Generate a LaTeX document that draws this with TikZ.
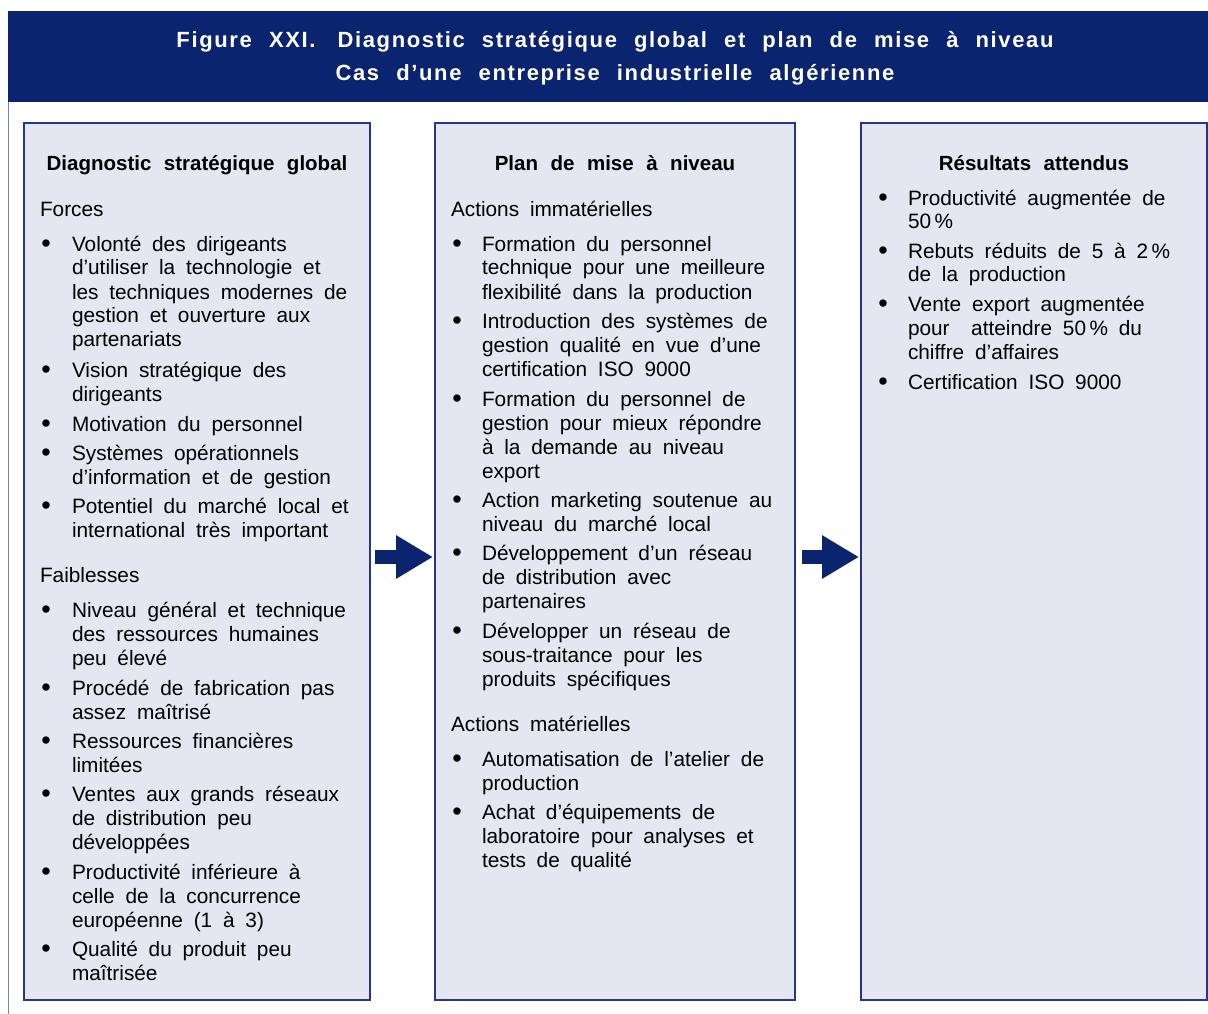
\documentclass[tikz,border=0pt]{standalone}
\usepackage{fontspec}
\setmainfont{Liberation Sans}[WordSpace=2.2]
\usetikzlibrary{arrows.meta,calc}
\definecolor{navy}{HTML}{0B2470}
\definecolor{panelfill}{HTML}{E4E7F1}
\definecolor{panelline}{HTML}{26368A}
\definecolor{frameline}{HTML}{7482B8}
\newcommand\bodyfnt{\fontsize{20.8pt}{24pt}\selectfont}
\newcommand\headfnt{\fontsize{20.5pt}{24pt}\selectfont\bfseries}
\newcommand\titlefnt{\fontsize{22pt}{32pt}\selectfont\bfseries\addfontfeature{LetterSpace=7.5}}
\newcommand\dotfnt{\fontsize{27pt}{27pt}\selectfont}
% wide interword spacing used in the panel texts
\newcommand\widesp{\spaceskip=10.8pt plus 1pt minus 1pt\xspaceskip=10.8pt\relax}
% bullet item: name, bullet x, text x, baseline y, text
\newcommand\bitem[5]{%
  \node[dot] (#1d) at (#2,#4) {•};
  \node[txt] (#1) at (#3,#4) {\widesp #5};}
\begin{document}
\begin{tikzpicture}[x=1pt,y=-1pt,
  panel/.style={draw=panelline, line width=1.4pt, fill=panelfill, rectangle,
    anchor=north west, inner sep=0pt, outer sep=0pt},
  txt/.style={anchor=base west, inner sep=0pt, outer sep=0pt,
    text width=330pt, font=\bodyfnt},
  dot/.style={anchor=base, inner sep=0pt, outer sep=0pt, font=\dotfnt, yshift=-1pt},
  head/.style={anchor=base, inner sep=0pt, outer sep=0pt, font=\headfnt},
  bigarrow/.style={draw=navy, line width=14pt,
    -{Triangle[length=37pt, width=41pt, fill=navy]}}]

\useasboundingbox (0,0) rectangle (1208,1014);
\fill[white] (0,0) rectangle (1208,1014);

% title banner
\node[fill=navy, rectangle, anchor=north west, inner sep=0pt, outer sep=0pt,
  minimum width=1200pt, minimum height=91pt] (banner) at (8,11) {};
\node[anchor=base, inner sep=0pt, text=white, font=\titlefnt] (title1) at (615,48)
  {Figure XXI.\hspace{22pt}Diagnostic stratégique global et plan de mise à niveau};
\node[anchor=base, inner sep=0pt, text=white, font=\titlefnt] (title2) at (615,81)
  {Cas d’une entreprise industrielle algérienne};

% left frame rule
\coordinate (frametop) at (8.6,102);
\coordinate (framebot) at (8.6,1014);
\draw[frameline, line width=1.2pt] (frametop) -- (framebot);

% the three panels
\node[panel, minimum width=346pt, minimum height=877pt] (box1) at (24,123) {};
\node[panel, minimum width=360pt, minimum height=877pt] (box2) at (435,123) {};
\node[panel, minimum width=346pt, minimum height=877pt] (box3) at (861,123) {};

% arrows between panels
\draw[bigarrow] ($(box1.east)+(5,-4.5)$) -- ($(box2.west)+(-2,-4.5)$);
\draw[bigarrow] ($(box2.east)+(7,-4.5)$) -- ($(box3.west)+(-2,-4.5)$);

% ---- panel 1 ----
\node[head] (h1) at (197,171) {Diagnostic stratégique global};
\node[txt] (forces) at (40,216) {Forces};
\bitem{f1}{46}{72}{251}{Volonté des dirigeants\\d’utiliser la technologie et\\les techniques modernes de\\gestion et ouverture aux\\partenariats}
\bitem{f2}{46}{72}{377}{Vision stratégique des\\dirigeants}
\bitem{f3}{46}{72}{431}{Motivation du personnel}
\bitem{f4}{46}{72}{460}{Systèmes opérationnels\\d’information et de gestion}
\bitem{f5}{46}{72}{513}{Potentiel du marché local et\\international très important}
\node[txt] (faibl) at (40,582) {Faiblesses};
\bitem{w1}{46}{72}{617}{Niveau général et technique\\des ressources humaines\\peu élevé}
\bitem{w2}{46}{72}{695}{Procédé de fabrication pas\\assez maîtrisé}
\bitem{w3}{46}{72}{748}{Ressources financières\\limitées}
\bitem{w4}{46}{72}{801}{Ventes aux grands réseaux\\de distribution peu\\développées}
\bitem{w5}{46}{72}{879}{Productivité inférieure à\\celle de la concurrence\\européenne (1 à 3)}
\bitem{w6}{46}{72}{956}{Qualité du produit peu\\maîtrisée}

% ---- panel 2 ----
\node[head] (h2) at (615,171) {Plan de mise à niveau};
\node[txt] (immat) at (451,216) {\widesp Actions immatérielles};
\bitem{a1}{457}{482}{251}{Formation du personnel\\technique pour une meilleure\\flexibilité dans la production}
\bitem{a2}{457}{482}{328}{Introduction des systèmes de\\gestion qualité en vue d’une\\certification ISO 9000}
\bitem{a3}{457}{482}{406}{Formation du personnel de\\gestion pour mieux répondre\\à la demande au niveau\\export}
\bitem{a4}{457}{482}{507}{Action marketing soutenue au\\niveau du marché local}
\bitem{a5}{457}{482}{560}{Développement d’un réseau\\de distribution avec\\partenaires}
\bitem{a6}{457}{482}{638}{Développer un réseau de\\sous-traitance pour les\\produits spécifiques}
\node[txt] (mat) at (451,731) {\widesp Actions matérielles};
\bitem{m1}{457}{482}{766}{Automatisation de l’atelier de\\production}
\bitem{m2}{457}{482}{819}{Achat d’équipements de\\laboratoire pour analyses et\\tests de qualité}

% ---- panel 3 ----
\node[head] (h3) at (1034,171) {Résultats attendus};
\bitem{r1}{883}{908}{205}{Productivité augmentée de\\50\,\%}
\bitem{r2}{883}{908}{258}{Rebuts réduits de 5 à 2\,\%\\de la production}
\bitem{r3}{883}{908}{311}{Vente export augmentée\\pour\ \ atteindre 50\,\% du\\chiffre d’affaires}
\bitem{r4}{883}{908}{389}{Certification ISO 9000}
\end{tikzpicture}
\end{document}
